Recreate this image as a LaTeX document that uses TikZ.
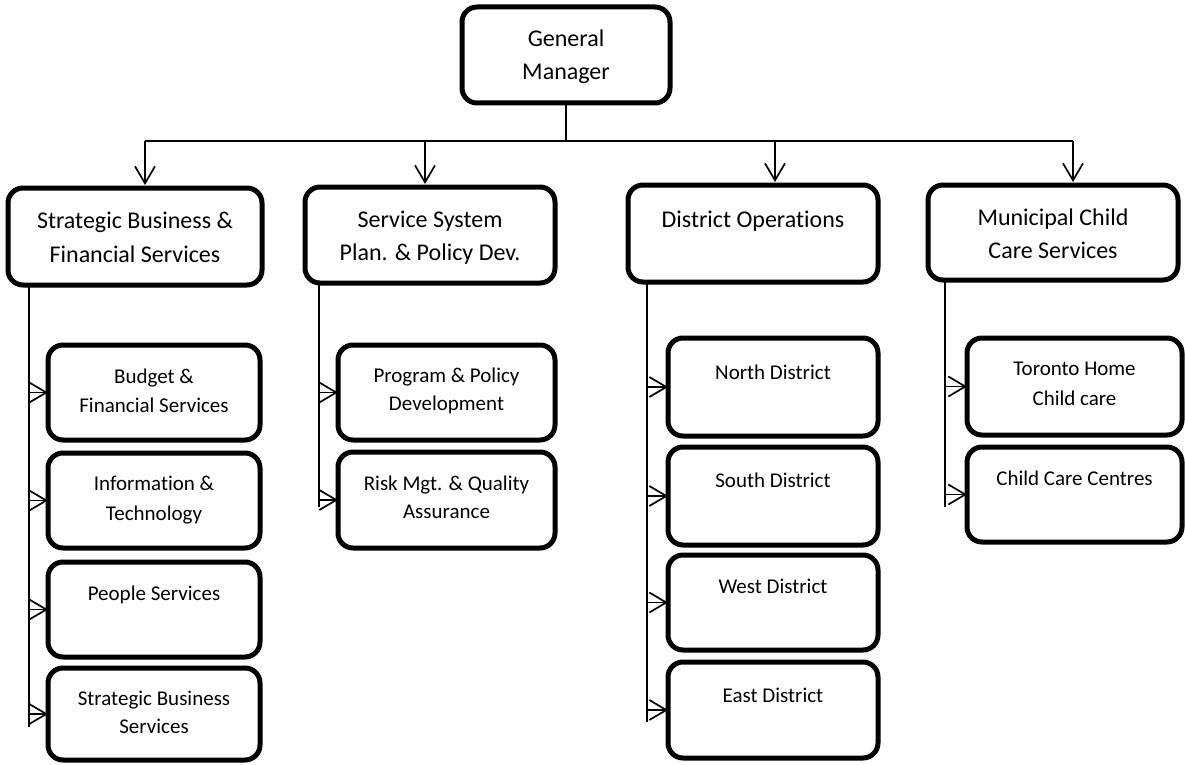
\documentclass[tikz,border=0pt]{standalone}
\usepackage{fontspec}
\setmainfont{Carlito}[Ligatures=NoCommon]
\usetikzlibrary{arrows.meta,calc}
\tikzset{
  box/.style={draw=black, line width=5pt, rounded corners=15pt, fill=white, inner sep=0pt, outer sep=0pt},
  big/.style={anchor=base, inner sep=0pt, font=\fontsize{24}{29}\selectfont},
  small/.style={anchor=base, inner sep=0pt, font=\fontsize{21}{26}\selectfont},
  conn/.style={draw=black, line width=1.7pt},
  arr/.style={conn, -{Straight Barb[length=17pt, width=20pt]}},
}
\newcommand{\obox}[5]{%
  \node[box, minimum width={#4-#2}, minimum height={#5-#3}] (#1) at ({(#2+#4)/2},{(#3+#5)/2}) {};}
\newcommand{\lineat}[4]{\node[#1] at ($(#2.north)+(0,#3)$) {#4};}
\begin{document}
\begin{tikzpicture}[x=1pt,y=-1pt]
\useasboundingbox (0,0) rectangle (1185,765);
\fill[white] (0,0) rectangle (1185,765);
% top
\obox{gm}{462}{7}{670}{103}
\lineat{big}{gm}{40}{General}
\lineat{big}{gm}{73}{Manager}
% level 1
\obox{sbfs}{8}{188}{262}{285}
\lineat{big}{sbfs}{40}{Strategic Business \&}
\lineat{big}{sbfs}{74}{Financial Services}
\obox{sspd}{305}{187}{555}{283}
\lineat{big}{sspd}{40}{Service System}
\lineat{big}{sspd}{73}{Plan. \& Policy Dev.}
\obox{dops}{628}{185}{878}{282}
\lineat{big}{dops}{42}{District Operations}
\obox{mccs}{928}{185}{1178}{280}
\lineat{big}{mccs}{40}{Municipal Child}
\lineat{big}{mccs}{73}{Care Services}
% children of SBFS
\obox{bfs}{48}{345}{260}{440}
\lineat{small}{bfs}{38}{Budget \&}
\lineat{small}{bfs}{67}{Financial Services}
\obox{itech}{48}{453}{260}{548}
\lineat{small}{itech}{37}{Information \&}
\lineat{small}{itech}{67}{Technology}
\obox{people}{48}{562}{260}{657}
\lineat{small}{people}{38}{People Services}
\obox{sbs}{48}{668}{260}{760}
\lineat{small}{sbs}{37}{Strategic Business}
\lineat{small}{sbs}{65}{Services}
% children of SSPD
\obox{ppd}{338}{345}{555}{440}
\lineat{small}{ppd}{37}{Program \& Policy}
\lineat{small}{ppd}{65}{Development}
\obox{risk}{338}{452}{555}{548}
\lineat{small}{risk}{38}{Risk Mgt. \& Quality}
\lineat{small}{risk}{66}{Assurance}
% children of DO
\obox{north}{668}{338}{878}{436}
\lineat{small}{north}{41}{North District}
\obox{south}{668}{447}{878}{545}
\lineat{small}{south}{40}{South District}
\obox{west}{668}{555}{878}{650}
\lineat{small}{west}{38}{West District}
\obox{east}{668}{662}{878}{758}
\lineat{small}{east}{40}{East District}
% children of MCCS
\obox{thcc}{967}{338}{1182}{435}
\lineat{small}{thcc}{37}{Toronto Home}
\lineat{small}{thcc}{67}{Child care}
\obox{ccc}{967}{447}{1182}{542}
\lineat{small}{ccc}{38}{Child Care Centres}
% connectors from GM
\coordinate (bus) at (566,141);
\coordinate (b1) at (145,141);
\coordinate (b2) at (425,141);
\coordinate (b3) at (775,141);
\coordinate (b4) at (1073,141);
\draw[conn] (gm.south) -- (bus);
\draw[conn] (b1) -- (b4);
\draw[arr, shorten >=3pt] (b1) -- (b1 |- sbfs.north);
\draw[arr, shorten >=3pt] (b2) -- (b2 |- sspd.north);
\draw[arr, shorten >=3pt] (b3) -- (b3 |- dops.north);
\draw[arr, shorten >=3pt] (b4) -- (b4 |- mccs.north);
% side spines
\coordinate (s1) at (29,727);
\coordinate (s2) at (319,507);
\coordinate (s3) at (647,722);
\coordinate (s4) at (945,507);
\draw[conn] (sbfs.south -| s1) -- (s1);
\draw[conn] (sspd.south -| s2) -- (s2);
\draw[conn] (dops.south -| s3) -- (s3);
\draw[conn] (mccs.south -| s4) -- (s4);
\foreach \c in {bfs,itech,people,sbs} \draw[arr] (\c.west -| s1) -- (\c.west);
\foreach \c in {ppd,risk} \draw[arr] (\c.west -| s2) -- (\c.west);
\foreach \c in {north,south,west,east} \draw[arr] (\c.west -| s3) -- (\c.west);
\foreach \c in {thcc,ccc} \draw[arr] (\c.west -| s4) -- (\c.west);
\end{tikzpicture}
\end{document}
